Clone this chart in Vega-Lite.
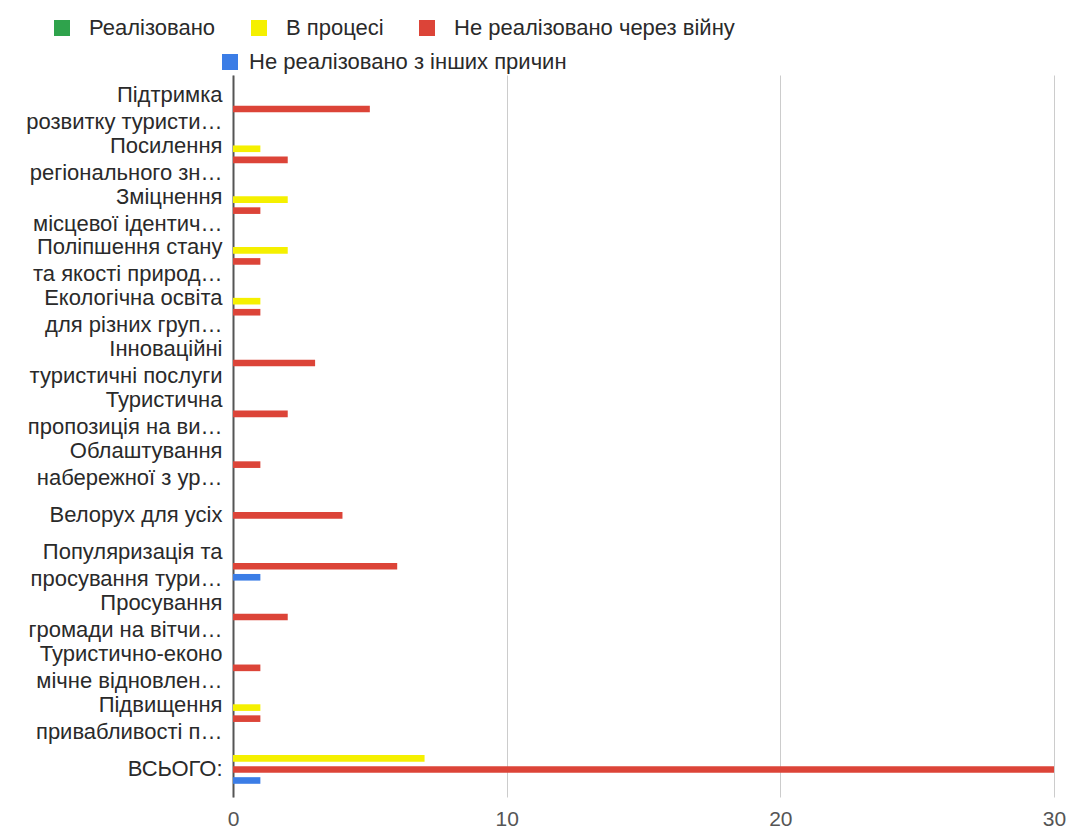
{
  "$schema": "https://vega.github.io/schema/vega-lite/v6.json",
  "width": 821,
  "height": 722,
  "autosize": {"type": "none"},
  "padding": {"left": 233, "top": 75, "right": 14, "bottom": 38},
  "background": "white",
  "config": {"view": {"stroke": null}, "font": "Liberation Sans"},
  "data": {
    "values": [
      {"cat": "Підтримка|розвитку туристи…", "series": "Реалізовано", "value": 0},
      {"cat": "Підтримка|розвитку туристи…", "series": "В процесі", "value": 0},
      {"cat": "Підтримка|розвитку туристи…", "series": "Не реалізовано через війну", "value": 5},
      {"cat": "Підтримка|розвитку туристи…", "series": "Не реалізовано з інших причин", "value": 0},
      {"cat": "Посилення|регіонального зн…", "series": "Реалізовано", "value": 0},
      {"cat": "Посилення|регіонального зн…", "series": "В процесі", "value": 1},
      {"cat": "Посилення|регіонального зн…", "series": "Не реалізовано через війну", "value": 2},
      {"cat": "Посилення|регіонального зн…", "series": "Не реалізовано з інших причин", "value": 0},
      {"cat": "Зміцнення|місцевої ідентич…", "series": "Реалізовано", "value": 0},
      {"cat": "Зміцнення|місцевої ідентич…", "series": "В процесі", "value": 2},
      {"cat": "Зміцнення|місцевої ідентич…", "series": "Не реалізовано через війну", "value": 1},
      {"cat": "Зміцнення|місцевої ідентич…", "series": "Не реалізовано з інших причин", "value": 0},
      {"cat": "Поліпшення стану|та якості природ…", "series": "Реалізовано", "value": 0},
      {"cat": "Поліпшення стану|та якості природ…", "series": "В процесі", "value": 2},
      {"cat": "Поліпшення стану|та якості природ…", "series": "Не реалізовано через війну", "value": 1},
      {"cat": "Поліпшення стану|та якості природ…", "series": "Не реалізовано з інших причин", "value": 0},
      {"cat": "Екологічна освіта|для різних груп…", "series": "Реалізовано", "value": 0},
      {"cat": "Екологічна освіта|для різних груп…", "series": "В процесі", "value": 1},
      {"cat": "Екологічна освіта|для різних груп…", "series": "Не реалізовано через війну", "value": 1},
      {"cat": "Екологічна освіта|для різних груп…", "series": "Не реалізовано з інших причин", "value": 0},
      {"cat": "Інноваційні|туристичні послуги", "series": "Реалізовано", "value": 0},
      {"cat": "Інноваційні|туристичні послуги", "series": "В процесі", "value": 0},
      {"cat": "Інноваційні|туристичні послуги", "series": "Не реалізовано через війну", "value": 3},
      {"cat": "Інноваційні|туристичні послуги", "series": "Не реалізовано з інших причин", "value": 0},
      {"cat": "Туристична|пропозиція на ви…", "series": "Реалізовано", "value": 0},
      {"cat": "Туристична|пропозиція на ви…", "series": "В процесі", "value": 0},
      {"cat": "Туристична|пропозиція на ви…", "series": "Не реалізовано через війну", "value": 2},
      {"cat": "Туристична|пропозиція на ви…", "series": "Не реалізовано з інших причин", "value": 0},
      {"cat": "Облаштування|набережної з ур…", "series": "Реалізовано", "value": 0},
      {"cat": "Облаштування|набережної з ур…", "series": "В процесі", "value": 0},
      {"cat": "Облаштування|набережної з ур…", "series": "Не реалізовано через війну", "value": 1},
      {"cat": "Облаштування|набережної з ур…", "series": "Не реалізовано з інших причин", "value": 0},
      {"cat": "Велорух для усіх", "series": "Реалізовано", "value": 0},
      {"cat": "Велорух для усіх", "series": "В процесі", "value": 0},
      {"cat": "Велорух для усіх", "series": "Не реалізовано через війну", "value": 4},
      {"cat": "Велорух для усіх", "series": "Не реалізовано з інших причин", "value": 0},
      {"cat": "Популяризація та|просування тури…", "series": "Реалізовано", "value": 0},
      {"cat": "Популяризація та|просування тури…", "series": "В процесі", "value": 0},
      {"cat": "Популяризація та|просування тури…", "series": "Не реалізовано через війну", "value": 6},
      {"cat": "Популяризація та|просування тури…", "series": "Не реалізовано з інших причин", "value": 1},
      {"cat": "Просування|громади на вітчи…", "series": "Реалізовано", "value": 0},
      {"cat": "Просування|громади на вітчи…", "series": "В процесі", "value": 0},
      {"cat": "Просування|громади на вітчи…", "series": "Не реалізовано через війну", "value": 2},
      {"cat": "Просування|громади на вітчи…", "series": "Не реалізовано з інших причин", "value": 0},
      {"cat": "Туристично-еконо|мічне відновлен…", "series": "Реалізовано", "value": 0},
      {"cat": "Туристично-еконо|мічне відновлен…", "series": "В процесі", "value": 0},
      {"cat": "Туристично-еконо|мічне відновлен…", "series": "Не реалізовано через війну", "value": 1},
      {"cat": "Туристично-еконо|мічне відновлен…", "series": "Не реалізовано з інших причин", "value": 0},
      {"cat": "Підвищення|привабливості п…", "series": "Реалізовано", "value": 0},
      {"cat": "Підвищення|привабливості п…", "series": "В процесі", "value": 1},
      {"cat": "Підвищення|привабливості п…", "series": "Не реалізовано через війну", "value": 1},
      {"cat": "Підвищення|привабливості п…", "series": "Не реалізовано з інших причин", "value": 0},
      {"cat": "ВСЬОГО:", "series": "Реалізовано", "value": 0},
      {"cat": "ВСЬОГО:", "series": "В процесі", "value": 7},
      {"cat": "ВСЬОГО:", "series": "Не реалізовано через війну", "value": 30},
      {"cat": "ВСЬОГО:", "series": "Не реалізовано з інших причин", "value": 1}
    ]
  },
  "transform": [{"filter": "datum.value > 0"}],
  "encoding": {
    "y": {
      "field": "cat",
      "type": "nominal",
      "sort": null,
      "scale": {
        "domain": [
          "Підтримка|розвитку туристи…",
          "Посилення|регіонального зн…",
          "Зміцнення|місцевої ідентич…",
          "Поліпшення стану|та якості природ…",
          "Екологічна освіта|для різних груп…",
          "Інноваційні|туристичні послуги",
          "Туристична|пропозиція на ви…",
          "Облаштування|набережної з ур…",
          "Велорух для усіх",
          "Популяризація та|просування тури…",
          "Просування|громади на вітчи…",
          "Туристично-еконо|мічне відновлен…",
          "Підвищення|привабливості п…",
          "ВСЬОГО:"
        ],
        "paddingInner": 0,
        "paddingOuter": 0.106,
        "align": 0.8
      },
      "axis": {
        "title": null,
        "labelExpr": "split(datum.label, '|')",
        "labelFontSize": 22,
        "labelColor": "#2a2a2a",
        "labelLimit": 0,
        "labelPadding": 11,
        "labelLineHeight": 27,
        "labelBaseline": "middle",
        "labelOffset": {"condition": {"test": "indexof(datum.value, '|') >= 0", "value": -14}, "value": 0},
        "ticks": false,
        "grid": false,
        "domain": true,
        "domainColor": "#555555",
        "domainWidth": 2
      }
    },
    "x": {
      "field": "value",
      "type": "quantitative",
      "scale": {"domain": [0, 30], "nice": false},
      "axis": {
        "title": null,
        "values": [0, 10, 20, 30],
        "grid": true,
        "gridColor": "#cccccc",
        "domain": false,
        "ticks": false,
        "labelFlush": false,
        "labelFontSize": 21,
        "labelColor": "#555555",
        "labelPadding": 11
      }
    },
    "yOffset": {
      "field": "series",
      "scale": {
        "domain": ["В процесі", "Не реалізовано через війну", "Не реалізовано з інших причин"],
        "paddingInner": 0.4,
        "paddingOuter": 1.688
      }
    }
  },
  "layer": [
    {
      "transform": [{"filter": "datum.series != 'Не реалізовано з інших причин'"}],
      "mark": {"type": "bar"},
      "encoding": {
        "color": {
          "field": "series",
          "type": "nominal",
          "scale": {
            "domain": ["Реалізовано", "В процесі", "Не реалізовано через війну"],
            "range": ["#2fa34c", "#f5f000", "#dc4438"]
          },
          "legend": {
            "title": null,
            "orient": "none",
            "legendX": -182,
            "legendY": -58,
            "direction": "horizontal",
            "symbolType": "square",
            "symbolSize": 256,
            "symbolStrokeWidth": 0,
            "symbolOpacity": 1,
            "labelFontSize": 22,
            "labelColor": "#2a2a2a",
            "labelOffset": 16,
            "columnPadding": 32,
            "labelLimit": 0
          }
        }
      }
    },
    {
      "transform": [{"filter": "datum.series == 'Не реалізовано з інших причин'"}],
      "mark": {"type": "bar"},
      "encoding": {
        "color": {
          "field": "series",
          "type": "nominal",
          "scale": {
            "domain": ["Не реалізовано з інших причин"],
            "range": ["#3b7de6"]
          },
          "legend": {
            "title": null,
            "orient": "none",
            "legendX": -14,
            "legendY": -24,
            "direction": "horizontal",
            "symbolType": "square",
            "symbolSize": 256,
            "symbolStrokeWidth": 0,
            "symbolOpacity": 1,
            "labelFontSize": 22,
            "labelColor": "#2a2a2a",
            "labelOffset": 8,
            "labelLimit": 0
          }
        }
      }
    }
  ],
  "resolve": {"scale": {"color": "independent"}}
}
